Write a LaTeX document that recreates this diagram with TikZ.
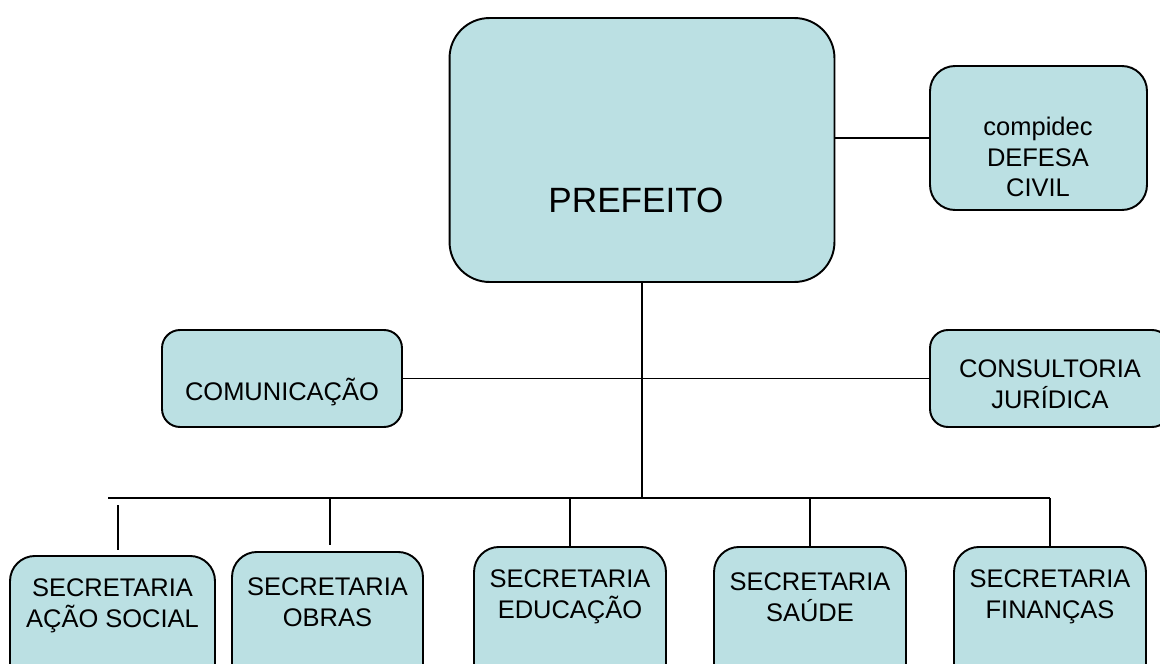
\documentclass[tikz,border=0pt]{standalone}
\usepackage{fontspec}
\setmainfont{Liberation Sans}
\definecolor{boxfill}{HTML}{BBE0E3}
\def\boxfont{\fontsize{14.5}{17.5}\selectfont}
\tikzstyle{unit}=[draw=black, fill=boxfill, line width=1.1pt, rounded corners=0.5cm, inner sep=0pt]
\tikzstyle{caption}=[font=\boxfont, align=center, inner sep=0pt]
\tikzstyle{link}=[line width=1.1pt]

\begin{document}
\begin{tikzpicture}[x=0.02cm, y=-0.02cm]
  \clip (0,0) rectangle (1160,663);
  % top: prefeito and defesa civil
  \node [unit, rounded corners=0.8cm, minimum width=7.7cm, minimum height=5.28cm] (prefeito) at (642,150) {};
  \node [caption, font=\fontsize{20}{24}\selectfont] (prefeito-txt) at (636,200) {PREFEITO};
  \node [unit, minimum width=4.34cm, minimum height=2.88cm] (defesa) at (1038.5,138) {};
  \node [caption] (defesa-txt) at (1038,157) {compidec\\DEFESA\\CIVIL};
  % middle: staff units
  \node [unit, rounded corners=0.36cm, minimum width=4.8cm, minimum height=1.94cm] (comunicacao) at (282,378.5) {};
  \node [caption] (comunicacao-txt) at (282,392) {COMUNICAÇÃO};
  \node [unit, rounded corners=0.36cm, minimum width=4.8cm, minimum height=1.94cm] (consultoria) at (1050,378.5) {};
  \node [caption] (consultoria-txt) at (1050,384) {CONSULTORIA\\JURÍDICA};

  \draw [link] (prefeito.east |- defesa.west) -- (defesa.west);
  \draw [link] (comunicacao.east) -- (consultoria.west);

  % bus to the secretarias
  \coordinate (bus) at (642,498);
  \coordinate (bus-l) at (108,498);
  \coordinate (bus-r) at (1050,498);
  \draw [link] (prefeito.south) -- (prefeito.south |- bus);
  \draw [link] (bus-l) -- (bus-r);

  % secretarias
  \foreach \x/\top/\w/\name [count=\i] in
    {112.5/555/4.1/AÇÃO SOCIAL, 327.5/551/3.82/OBRAS, 570/546/3.84/EDUCAÇÃO,
     810/546/3.84/SAÚDE, 1050/546/3.84/FINANÇAS}
  {
    \node [unit, anchor=north, minimum width=\w cm, minimum height=2.9cm] (sec-\i) at (\x,\top) {};
    \node [caption] (sec-txt-\i) at ([yshift={-(\top-546)*0.02cm}] \x,597) {SECRETARIA\\\name};
  }
  \draw [link] (118,505) -- (118,550);
  \draw [link] (330,498) -- (330,545);
  \foreach \x [count=\i from 3] in {570,810,1050}
    \draw [link] (\x,498) -- (sec-\i.north -| \x,498);
\end{tikzpicture}
\end{document}
